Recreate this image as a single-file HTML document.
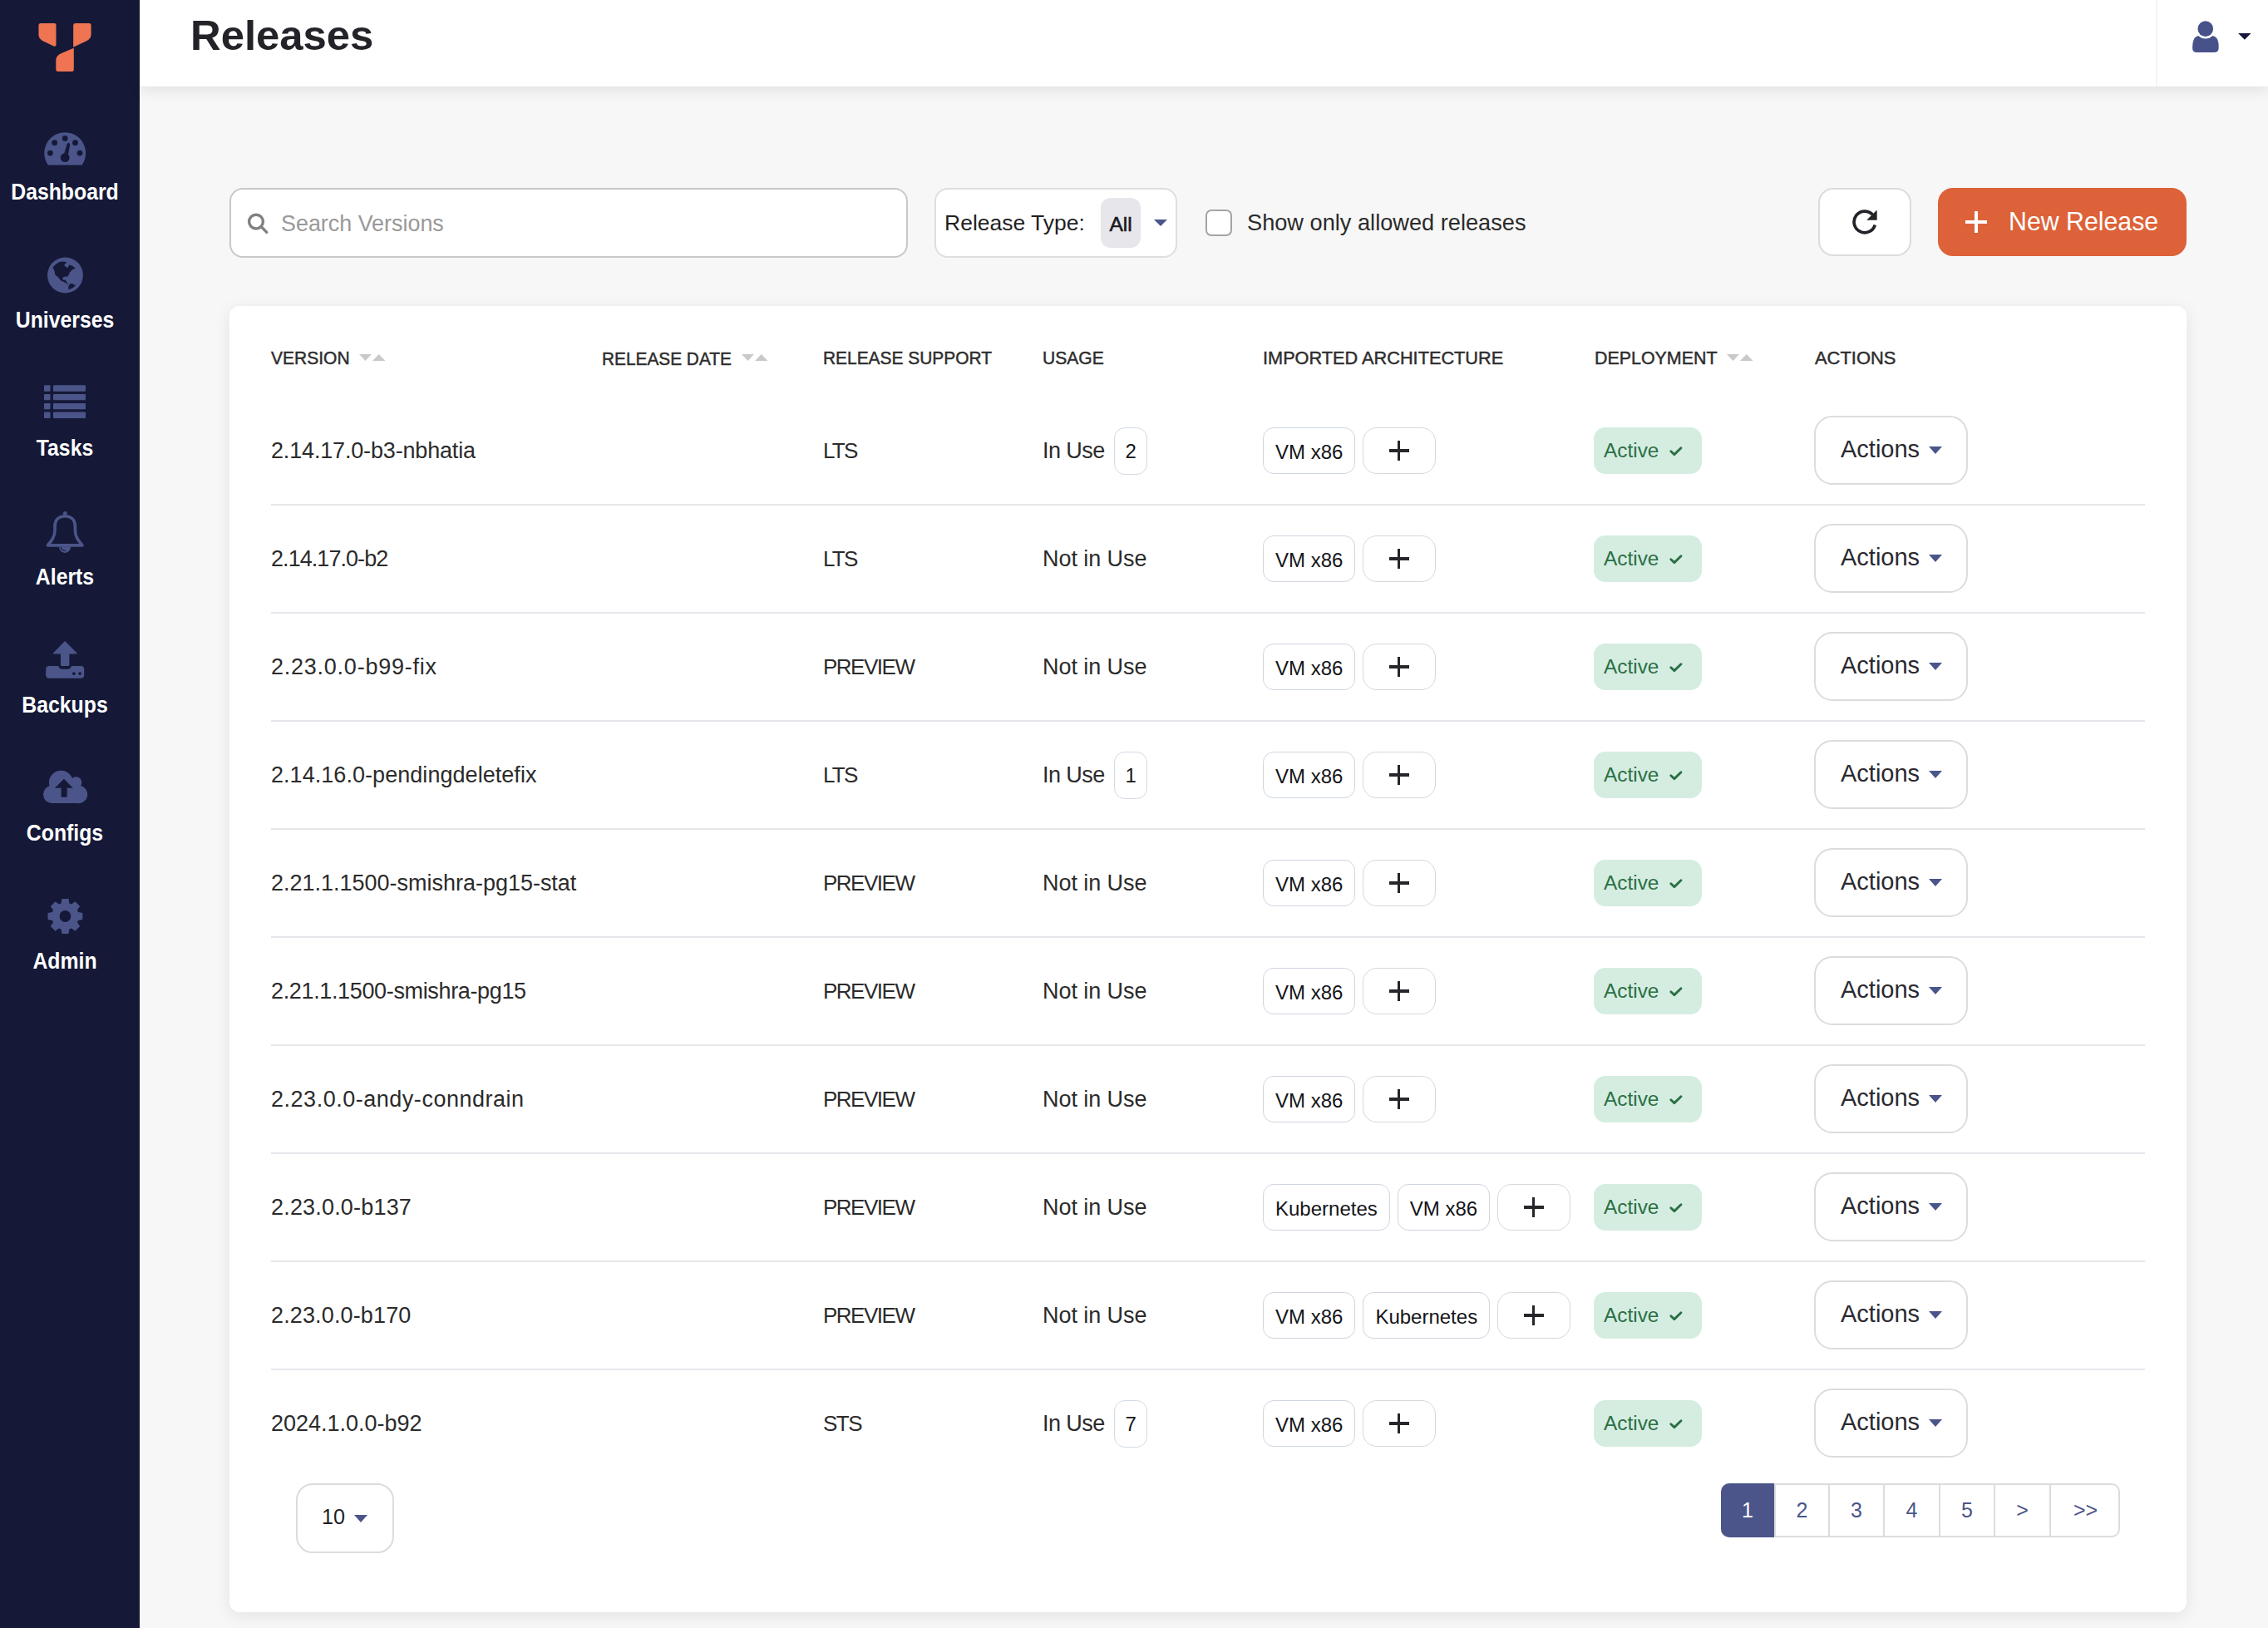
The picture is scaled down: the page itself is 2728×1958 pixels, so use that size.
<!DOCTYPE html><html><head><meta charset="utf-8"><style>
*{box-sizing:border-box;margin:0;padding:0}
html,body{width:2728px;height:1958px;overflow:hidden;background:#f7f7f7;font-family:"Liberation Sans",sans-serif;color:#333}
#side{position:absolute;left:0;top:0;width:168px;height:1958px;background:#151937}
.nav{position:absolute;left:0;width:156px;text-align:center;color:#fff;font-weight:bold;font-size:24.8px;line-height:30px;height:30px;white-space:nowrap;transform:scaleY(1.09)}
svg{position:absolute;overflow:visible}
#hdr{position:absolute;left:168px;top:0;width:2560px;height:104px;background:#fff;box-shadow:0 5px 16px rgba(0,0,0,0.09)}
#title{position:absolute;left:61px;top:17.5px;height:50px;line-height:50px;font-size:50.8px;font-weight:bold;color:#232329;white-space:nowrap}
.box{position:absolute;background:#fff;border:2px solid #d9d9d9;border-radius:16px}
.t{position:absolute;white-space:nowrap}
#card{position:absolute;left:276px;top:368px;width:2354px;height:1571px;background:#fff;border-radius:12px;box-shadow:0 4px 20px rgba(0,0,0,0.085)}
.th{position:absolute;top:416px;height:30px;line-height:30px;font-size:21.1px;color:#2e2e2e;white-space:nowrap;font-weight:normal;-webkit-text-stroke:0.45px #2e2e2e}
.row{position:absolute;left:326px;width:2254px;height:130px;border-bottom:2px solid #e6e6eb}
.row.last{border-bottom:none}
.cell{position:absolute;top:0;height:128px;display:flex;align-items:center;white-space:nowrap;font-size:26.7px;color:#2b2b2b}
.chip{display:inline-block;height:56px;line-height:58px;border:1.75px solid #cfd6e0;border-radius:13px;padding:0 14px;font-size:24px;color:#141519;margin-right:9px;background:#fff}
.plus{display:inline-block;position:relative;width:88px;height:56px;border:1.75px solid #d8d8d8;border-radius:17px;background:#fff}
.plus:before{content:"";position:absolute;left:30.5px;top:25.4px;width:24px;height:3.2px;background:#26262b}
.plus:after{content:"";position:absolute;left:40.9px;top:15px;width:3.2px;height:24px;background:#26262b}
.cnt{display:inline-block;width:40px;height:57px;line-height:55px;text-align:center;border:1.5px solid #d3dae3;border-radius:13px;font-size:24px;color:#141519;margin-left:11.5px}
.active{display:inline-block;width:130px;height:56px;line-height:55px;background:#d5ede1;border-radius:14px;color:#2b6f45;font-size:24.4px;padding-left:12px;margin-left:-1px;position:relative}
.act{display:inline-block;position:relative;width:185px;height:83px;border:2px solid #dcdcdc;border-radius:22px;background:#fff;font-size:29px;color:#2a2a30;line-height:76px;padding-left:30px;margin-top:-1.5px;margin-left:-1px}
.caret{position:absolute;width:0;height:0;border-left:8px solid transparent;border-right:8px solid transparent;border-top:9px solid #4b5589}
</style></head><body>
<div id="side">
<svg style="left:0;top:0" width="168" height="1200" viewBox="0 0 168 1200">
<g fill="#ef7451">
<path d="M49 28 H65.5 Q67.5 28 67.5 30 V53.5 Q67.5 56.5 64.7 55.6 L52 49.6 Q46.45 46.8 46.45 41.5 V30.5 Q46.45 28 49 28 Z"/>
<path d="M90.5 28 H107.3 Q109.6 28 109.6 30.3 V41.5 Q109.6 46.8 103.6 49.6 L88.15 56.8 V30.5 Q88.15 28 90.5 28 Z"/>
<path d="M88.8 57.7 V83.5 Q88.8 86 86.3 86 H70 Q67.3 86 67.3 83.5 V72.5 Q67.3 66.8 74 64 Z"/>
</g>
<g fill="#4b5589">
<path d="M57.9 198.5 A24.9 24.9 0 1 1 98.5 198.5 Z"/>
<circle cx="78.45" cy="331" r="21.4"/>
<rect x="53" y="463.3" width="7.5" height="7.5" rx="1"/><rect x="64" y="463.3" width="39" height="7.5" rx="1"/>
<rect x="53" y="474" width="7.5" height="7.3" rx="1"/><rect x="64" y="474" width="39" height="7.3" rx="1"/>
<rect x="53" y="484.9" width="7.5" height="7.3" rx="1"/><rect x="64" y="484.9" width="39" height="7.3" rx="1"/>
<rect x="53" y="495.6" width="7.5" height="7.3" rx="1"/><rect x="64" y="495.6" width="39" height="7.3" rx="1"/>
<path d="M78.04 770.9 L92.6 785.6 Q93.2 786.6 92 786.6 H83.4 V799.5 Q83.4 801 82 801 H74.4 Q73 801 73 799.5 V786.6 H64.4 Q63.3 786.6 64 785.6 Z"/>
<path d="M59.2 801 H70 Q71.5 804.7 74.5 804.7 H81.6 Q84.6 804.7 86.1 801 H97.2 Q101.2 801 101.2 805 V811.7 Q101.2 815.7 97.2 815.7 H59.2 Q55.2 815.7 55.2 811.7 V805 Q55.2 801 59.2 801 Z"/>
<circle cx="73.4" cy="941.2" r="14.5"/><circle cx="91.5" cy="941" r="6.8"/><circle cx="62.5" cy="955.5" r="10.5"/><circle cx="94.5" cy="955.5" r="10.7"/><rect x="62.5" y="945" width="32" height="21"/>
<path d="M73.53 1086.46 L74.38 1081.09 L82.52 1081.09 L83.37 1086.46 L85.96 1087.53 L90.35 1084.34 L96.11 1090.10 L92.92 1094.49 L93.99 1097.08 L99.36 1097.93 L99.36 1106.07 L93.99 1106.92 L92.92 1109.51 L96.11 1113.90 L90.35 1119.66 L85.96 1116.47 L83.37 1117.54 L82.52 1122.91 L74.38 1122.91 L73.53 1117.54 L70.94 1116.47 L66.55 1119.66 L60.79 1113.90 L63.98 1109.51 L62.91 1106.92 L57.54 1106.07 L57.54 1097.93 L62.91 1097.08 L63.98 1094.49 L60.79 1090.10 L66.55 1084.34 L70.94 1087.53 Z"/>
</g>
<g fill="#151937">
<circle cx="78.2" cy="166.4" r="3.4"/><circle cx="65.65" cy="171.65" r="3.4"/><circle cx="90.5" cy="171.65" r="3.4"/><circle cx="60.4" cy="184.1" r="3.4"/><circle cx="96.05" cy="184.1" r="3.4"/>
<circle cx="78.2" cy="189.6" r="5.4"/>
<path d="M76 189 L80.6 173.2 Q81.5 171.6 83 172 Q84.4 172.6 84.2 174.2 L81.2 189.5 Z"/>
<path d="M63.5 321.6 L66.4 318.4 L70.9 315.2 L75.4 314.6 L80.5 315.2 L77.3 318.4 L78.2 320.3 L81.8 322.3 L83 318.4 L86.9 319.7 L90.7 322.4 L86.5 324.8 L83.7 328 L82.7 330.6 L81.1 332.8 L78.6 332.5 L75.4 333.8 L76 337 L78.6 336.6 L80.2 339.5 L82.4 342.4 L77.9 339.8 L72.8 337.3 L70.3 333.8 L66.4 330.6 L65.5 325.8 Z"/>
<path d="M83.7 341.4 L86.5 341.1 L91 343.3 L87.5 346.2 L82.4 348.5 L82.1 345.3 Z"/>
<circle cx="88.9" cy="810.1" r="1.9"/><circle cx="96.1" cy="810.1" r="1.9"/>
<path d="M76.9 936.8 L87.8 947.8 H80.7 V958 Q80.7 958.8 80 958.8 H74.3 Q73.6 958.8 73.6 958 V947.8 H66 Z"/>
<circle cx="78.45" cy="1102" r="6.9"/>
</g>
<path fill="none" stroke="#4b5589" stroke-width="3.6" stroke-linejoin="round" d="M78.2 620.7 C70.5 620.7 66 625.5 66 633 V638 C66 646 61.5 651 57.4 655.9 H99 C94.9 651 90.4 646 90.4 638 V633 C90.4 625.5 85.9 620.7 78.2 620.7 Z"/>
<circle cx="78.2" cy="617.3" r="2.4" fill="#4b5589"/>
<path fill="#4b5589" d="M71 657.6 A7.1 7.3 0 0 0 85.2 657.6 Z"/>
<path fill="none" stroke="#151937" stroke-width="1.1" d="M72.9 657.8 Q74 662 79.1 662.5"/>
</svg>
<div class="nav" style="top:216px">Dashboard</div>
<div class="nav" style="top:370px">Universes</div>
<div class="nav" style="top:524px">Tasks</div>
<div class="nav" style="top:679px">Alerts</div>
<div class="nav" style="top:833px">Backups</div>
<div class="nav" style="top:987px">Configs</div>
<div class="nav" style="top:1141px">Admin</div>
</div>
<div id="hdr"><div id="title">Releases</div>
<div style="position:absolute;left:2425px;top:0;width:2px;height:104px;background:#f4f4f4"></div>
</div>
<svg style="left:2630px;top:18px" width="90" height="52" viewBox="2630 18 90 52">
<path d="M2644.3 43 Q2648 46.6 2652.8 46.6 Q2657.6 46.6 2661.3 43 Q2667.5 44 2668.5 52 L2668.7 57.5 Q2668.7 63 2663 63 H2642.5 Q2637 63 2637.1 57.5 L2637.5 52 Q2638.5 44 2644.3 43 Z" fill="#47518a"/>
<circle cx="2652.8" cy="34.65" r="9.9" fill="#fff"/>
<circle cx="2652.8" cy="34.65" r="9.3" fill="#47518a"/>
<path d="M2692.1 40 H2707.6 L2699.85 47.8 Z" fill="#15183a"/>
</svg>
<div class="box" style="left:276px;top:226px;width:816px;height:84px;border-color:#c8c8c8"></div>
<svg style="left:296px;top:254px" width="30" height="30" viewBox="0 0 30 30"><circle cx="12" cy="12.6" r="8.4" fill="none" stroke="#808080" stroke-width="3.4"/><path d="M18.5 19 L24.8 25.4" stroke="#808080" stroke-width="3.3" stroke-linecap="round"/></svg>
<div class="t" style="left:338px;top:254px;height:30px;line-height:30px;font-size:26.9px;color:#999">Search Versions</div>
<div class="box" style="left:1124px;top:226px;width:292px;height:84px;border-color:#dedede"></div>
<div class="t" style="left:1136px;top:253px;height:30px;line-height:30px;font-size:26.5px;color:#1f1f24">Release Type:</div>
<div class="t" style="left:1324px;top:238px;width:48px;height:60px;border-radius:12px;background:#e6e6eb"></div>
<div class="t" style="left:1334.5px;top:255px;height:30px;line-height:30px;font-size:24.5px;color:#1a1a1f;-webkit-text-stroke:0.6px #1a1a1f">All</div>
<div class="caret" style="left:1388px;top:264px;border-top-width:8px"></div>
<div class="t" style="left:1450px;top:252px;width:32px;height:32px;border:2px solid #a4a4a8;border-radius:7px;background:#fff"></div>
<div class="t" style="left:1500px;top:253px;height:30px;line-height:30px;font-size:27.2px;color:#2b2b2b">Show only allowed releases</div>
<div class="box" style="left:2187px;top:226px;width:112px;height:82px;border-color:#dcdcde;border-radius:18px"></div>
<svg style="left:2220px;top:245px" width="50" height="45" viewBox="2220 245 50 45"><path d="M2255.3 270.4 A12.85 12.85 0 1 1 2252.45 258.3" fill="none" stroke="#232329" stroke-width="3.7"/><path d="M2257.7 252.5 V264.8 H2245.2 Z" fill="#232329"/></svg>
<div class="t" style="left:2331px;top:226px;width:299px;height:82px;border-radius:18px;background:#dd6239"></div>
<div class="t" style="left:2364px;top:265.2px;width:26px;height:3.6px;background:#fff"></div>
<div class="t" style="left:2375.2px;top:254px;width:3.6px;height:26px;background:#fff"></div>
<div class="t" style="left:2416px;top:251px;height:32px;line-height:32px;font-size:30.3px;color:#fff;transform:scaleY(1.05)">New Release</div>
<div id="card"></div>
<div class="th" style="left:326px;font-size:21.02px;transform:scaleY(1.063)">VERSION</div>
<div class="th" style="left:724px;font-size:20.84px;transform:scaleY(1.072)">RELEASE DATE</div>
<div class="th" style="left:990px;font-size:20.92px;transform:scaleY(1.068)">RELEASE SUPPORT</div>
<div class="th" style="left:1254px;font-size:21.06px;transform:scaleY(1.061)">USAGE</div>
<div class="th" style="left:1519px;font-size:21.73px;transform:scaleY(1.028)">IMPORTED ARCHITECTURE</div>
<div class="th" style="left:1918px;font-size:21.42px;transform:scaleY(1.043)">DEPLOYMENT</div>
<div class="th" style="left:2183px;font-size:21.91px;transform:scaleY(1.020)">ACTIONS</div>
<svg style="left:432px;top:426px" width="32" height="9" viewBox="0 0 32 9"><path d="M0 0 H15 L7.5 8 Z M16 8 H31.5 L23.75 0 Z" fill="#c9c9c9"/></svg>
<svg style="left:892px;top:426px" width="32" height="9" viewBox="0 0 32 9"><path d="M0 0 H15 L7.5 8 Z M16 8 H31.5 L23.75 0 Z" fill="#c9c9c9"/></svg>
<svg style="left:2077px;top:426px" width="32" height="9" viewBox="0 0 32 9"><path d="M0 0 H15 L7.5 8 Z M16 8 H31.5 L23.75 0 Z" fill="#c9c9c9"/></svg>
<div class="row" style="top:478px">
<div class="cell" style="left:0px;"><span style="font-size:27px;letter-spacing:-0.166px">2.14.17.0-b3-nbhatia</span></div>
<div class="cell" style="left:664px;"><span style="font-size:26px;letter-spacing:-1.730px">LTS</span></div>
<div class="cell" style="left:928px;"><span style="font-size:27px;letter-spacing:-0.566px">In Use</span><span class="cnt">2</span></div>
<div class="cell" style="left:1193px;"><span class="chip">VM x86</span><span class="plus"></span></div>
<div class="cell" style="left:1592px;"><span class="active">Active<svg style="left:91px;top:23px" width="16" height="13" viewBox="0 0 16 13"><path d="M1.8 5.7 L5.9 9.6 L14 1.8" fill="none" stroke="#2b6f45" stroke-width="2.9" stroke-linecap="round" stroke-linejoin="round"/></svg></span></div>
<div class="cell" style="left:1857px;"><span class="act">Actions<span class="caret" style="left:136px;top:35px"></span></span></div>
</div>
<div class="row" style="top:608px">
<div class="cell" style="left:0px;"><span style="font-size:27px;letter-spacing:-0.946px">2.14.17.0-b2</span></div>
<div class="cell" style="left:664px;"><span style="font-size:26px;letter-spacing:-1.730px">LTS</span></div>
<div class="cell" style="left:928px;"><span style="font-size:27px;letter-spacing:-0.066px">Not in Use</span></div>
<div class="cell" style="left:1193px;"><span class="chip">VM x86</span><span class="plus"></span></div>
<div class="cell" style="left:1592px;"><span class="active">Active<svg style="left:91px;top:23px" width="16" height="13" viewBox="0 0 16 13"><path d="M1.8 5.7 L5.9 9.6 L14 1.8" fill="none" stroke="#2b6f45" stroke-width="2.9" stroke-linecap="round" stroke-linejoin="round"/></svg></span></div>
<div class="cell" style="left:1857px;"><span class="act">Actions<span class="caret" style="left:136px;top:35px"></span></span></div>
</div>
<div class="row" style="top:738px">
<div class="cell" style="left:0px;"><span style="font-size:27px;letter-spacing:0.757px">2.23.0.0-b99-fix</span></div>
<div class="cell" style="left:664px;"><span style="font-size:26px;letter-spacing:-1.498px">PREVIEW</span></div>
<div class="cell" style="left:928px;"><span style="font-size:27px;letter-spacing:-0.066px">Not in Use</span></div>
<div class="cell" style="left:1193px;"><span class="chip">VM x86</span><span class="plus"></span></div>
<div class="cell" style="left:1592px;"><span class="active">Active<svg style="left:91px;top:23px" width="16" height="13" viewBox="0 0 16 13"><path d="M1.8 5.7 L5.9 9.6 L14 1.8" fill="none" stroke="#2b6f45" stroke-width="2.9" stroke-linecap="round" stroke-linejoin="round"/></svg></span></div>
<div class="cell" style="left:1857px;"><span class="act">Actions<span class="caret" style="left:136px;top:35px"></span></span></div>
</div>
<div class="row" style="top:868px">
<div class="cell" style="left:0px;"><span style="font-size:27px;letter-spacing:0.048px">2.14.16.0-pendingdeletefix</span></div>
<div class="cell" style="left:664px;"><span style="font-size:26px;letter-spacing:-1.730px">LTS</span></div>
<div class="cell" style="left:928px;"><span style="font-size:27px;letter-spacing:-0.566px">In Use</span><span class="cnt">1</span></div>
<div class="cell" style="left:1193px;"><span class="chip">VM x86</span><span class="plus"></span></div>
<div class="cell" style="left:1592px;"><span class="active">Active<svg style="left:91px;top:23px" width="16" height="13" viewBox="0 0 16 13"><path d="M1.8 5.7 L5.9 9.6 L14 1.8" fill="none" stroke="#2b6f45" stroke-width="2.9" stroke-linecap="round" stroke-linejoin="round"/></svg></span></div>
<div class="cell" style="left:1857px;"><span class="act">Actions<span class="caret" style="left:136px;top:35px"></span></span></div>
</div>
<div class="row" style="top:998px">
<div class="cell" style="left:0px;"><span style="font-size:27px;letter-spacing:-0.012px">2.21.1.1500-smishra-pg15-stat</span></div>
<div class="cell" style="left:664px;"><span style="font-size:26px;letter-spacing:-1.498px">PREVIEW</span></div>
<div class="cell" style="left:928px;"><span style="font-size:27px;letter-spacing:-0.066px">Not in Use</span></div>
<div class="cell" style="left:1193px;"><span class="chip">VM x86</span><span class="plus"></span></div>
<div class="cell" style="left:1592px;"><span class="active">Active<svg style="left:91px;top:23px" width="16" height="13" viewBox="0 0 16 13"><path d="M1.8 5.7 L5.9 9.6 L14 1.8" fill="none" stroke="#2b6f45" stroke-width="2.9" stroke-linecap="round" stroke-linejoin="round"/></svg></span></div>
<div class="cell" style="left:1857px;"><span class="act">Actions<span class="caret" style="left:136px;top:35px"></span></span></div>
</div>
<div class="row" style="top:1128px">
<div class="cell" style="left:0px;"><span style="font-size:27px;letter-spacing:-0.353px">2.21.1.1500-smishra-pg15</span></div>
<div class="cell" style="left:664px;"><span style="font-size:26px;letter-spacing:-1.498px">PREVIEW</span></div>
<div class="cell" style="left:928px;"><span style="font-size:27px;letter-spacing:-0.066px">Not in Use</span></div>
<div class="cell" style="left:1193px;"><span class="chip">VM x86</span><span class="plus"></span></div>
<div class="cell" style="left:1592px;"><span class="active">Active<svg style="left:91px;top:23px" width="16" height="13" viewBox="0 0 16 13"><path d="M1.8 5.7 L5.9 9.6 L14 1.8" fill="none" stroke="#2b6f45" stroke-width="2.9" stroke-linecap="round" stroke-linejoin="round"/></svg></span></div>
<div class="cell" style="left:1857px;"><span class="act">Actions<span class="caret" style="left:136px;top:35px"></span></span></div>
</div>
<div class="row" style="top:1258px">
<div class="cell" style="left:0px;"><span style="font-size:27px;letter-spacing:0.519px">2.23.0.0-andy-conndrain</span></div>
<div class="cell" style="left:664px;"><span style="font-size:26px;letter-spacing:-1.498px">PREVIEW</span></div>
<div class="cell" style="left:928px;"><span style="font-size:27px;letter-spacing:-0.066px">Not in Use</span></div>
<div class="cell" style="left:1193px;"><span class="chip">VM x86</span><span class="plus"></span></div>
<div class="cell" style="left:1592px;"><span class="active">Active<svg style="left:91px;top:23px" width="16" height="13" viewBox="0 0 16 13"><path d="M1.8 5.7 L5.9 9.6 L14 1.8" fill="none" stroke="#2b6f45" stroke-width="2.9" stroke-linecap="round" stroke-linejoin="round"/></svg></span></div>
<div class="cell" style="left:1857px;"><span class="act">Actions<span class="caret" style="left:136px;top:35px"></span></span></div>
</div>
<div class="row" style="top:1388px">
<div class="cell" style="left:0px;"><span style="font-size:27px;letter-spacing:0.184px">2.23.0.0-b137</span></div>
<div class="cell" style="left:664px;"><span style="font-size:26px;letter-spacing:-1.498px">PREVIEW</span></div>
<div class="cell" style="left:928px;"><span style="font-size:27px;letter-spacing:-0.066px">Not in Use</span></div>
<div class="cell" style="left:1193px;"><span class="chip">Kubernetes</span><span class="chip">VM x86</span><span class="plus"></span></div>
<div class="cell" style="left:1592px;"><span class="active">Active<svg style="left:91px;top:23px" width="16" height="13" viewBox="0 0 16 13"><path d="M1.8 5.7 L5.9 9.6 L14 1.8" fill="none" stroke="#2b6f45" stroke-width="2.9" stroke-linecap="round" stroke-linejoin="round"/></svg></span></div>
<div class="cell" style="left:1857px;"><span class="act">Actions<span class="caret" style="left:136px;top:35px"></span></span></div>
</div>
<div class="row" style="top:1518px">
<div class="cell" style="left:0px;"><span style="font-size:27px;letter-spacing:0.143px">2.23.0.0-b170</span></div>
<div class="cell" style="left:664px;"><span style="font-size:26px;letter-spacing:-1.498px">PREVIEW</span></div>
<div class="cell" style="left:928px;"><span style="font-size:27px;letter-spacing:-0.066px">Not in Use</span></div>
<div class="cell" style="left:1193px;"><span class="chip">VM x86</span><span class="chip">Kubernetes</span><span class="plus"></span></div>
<div class="cell" style="left:1592px;"><span class="active">Active<svg style="left:91px;top:23px" width="16" height="13" viewBox="0 0 16 13"><path d="M1.8 5.7 L5.9 9.6 L14 1.8" fill="none" stroke="#2b6f45" stroke-width="2.9" stroke-linecap="round" stroke-linejoin="round"/></svg></span></div>
<div class="cell" style="left:1857px;"><span class="act">Actions<span class="caret" style="left:136px;top:35px"></span></span></div>
</div>
<div class="row last" style="top:1648px">
<div class="cell" style="left:0px;"><span style="font-size:27px;letter-spacing:-0.008px">2024.1.0.0-b92</span></div>
<div class="cell" style="left:664px;"><span style="font-size:26px;letter-spacing:-1.485px">STS</span></div>
<div class="cell" style="left:928px;"><span style="font-size:27px;letter-spacing:-0.566px">In Use</span><span class="cnt">7</span></div>
<div class="cell" style="left:1193px;"><span class="chip">VM x86</span><span class="plus"></span></div>
<div class="cell" style="left:1592px;"><span class="active">Active<svg style="left:91px;top:23px" width="16" height="13" viewBox="0 0 16 13"><path d="M1.8 5.7 L5.9 9.6 L14 1.8" fill="none" stroke="#2b6f45" stroke-width="2.9" stroke-linecap="round" stroke-linejoin="round"/></svg></span></div>
<div class="cell" style="left:1857px;"><span class="act">Actions<span class="caret" style="left:136px;top:35px"></span></span></div>
</div>
<div class="box" style="left:356px;top:1784px;width:118px;height:84px;border-radius:20px;border-color:#dcdcdc"></div>
<div class="t" style="left:387px;top:1809px;height:30px;line-height:30px;font-size:25.2px;color:#1f1f24">10</div>
<div class="caret" style="left:426px;top:1821.5px"></div>
<div class="t" style="left:2070px;top:1784px;width:480px;height:65px;border:2px solid #dcdcdc;border-radius:10px;background:#fff"></div>
<div class="t" style="left:2070px;top:1784px;width:64px;height:65px;background:#4b5589;color:#fff;border-radius:10px 0 0 10px;text-align:center;line-height:65px;font-size:25px">1</div>
<div class="t" style="left:2134px;top:1784px;width:65px;height:65px;border-left:2px solid #dcdcdc;color:#4b5589;text-align:center;line-height:65px;font-size:25px">2</div>
<div class="t" style="left:2199px;top:1784px;width:66px;height:65px;border-left:2px solid #dcdcdc;color:#4b5589;text-align:center;line-height:65px;font-size:25px">3</div>
<div class="t" style="left:2265px;top:1784px;width:67px;height:65px;border-left:2px solid #dcdcdc;color:#4b5589;text-align:center;line-height:65px;font-size:25px">4</div>
<div class="t" style="left:2332px;top:1784px;width:66px;height:65px;border-left:2px solid #dcdcdc;color:#4b5589;text-align:center;line-height:65px;font-size:25px">5</div>
<div class="t" style="left:2398px;top:1784px;width:67px;height:65px;border-left:2px solid #dcdcdc;color:#4b5589;text-align:center;line-height:65px;font-size:25px">&gt;</div>
<div class="t" style="left:2465px;top:1784px;width:85px;height:65px;border-left:2px solid #dcdcdc;color:#4b5589;text-align:center;line-height:65px;font-size:25px">&gt;&gt;</div>
</body></html>
